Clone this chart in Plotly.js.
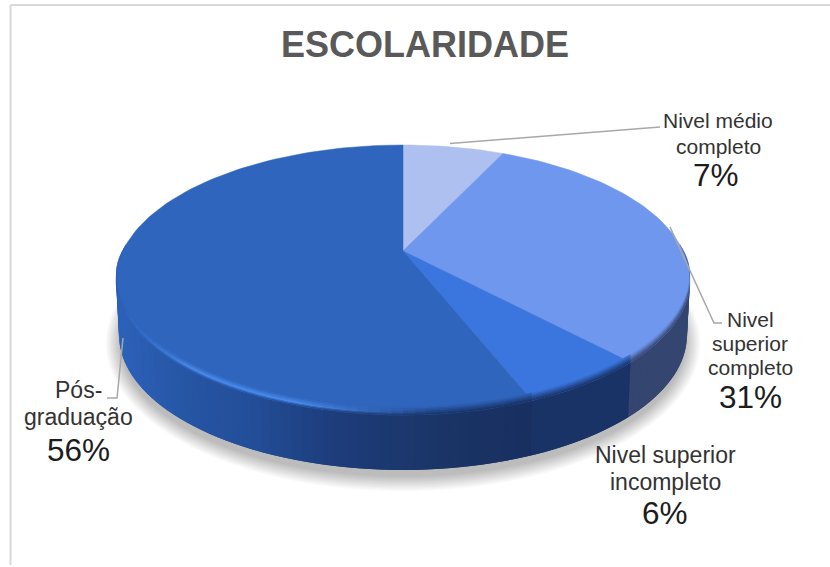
<!DOCTYPE html>
<html>
<head>
<meta charset="utf-8">
<script src="https://cdn.plot.ly/plotly-3.0.1.min.js"></script>
<style>html,body{margin:0;padding:0;background:#fff}#chart{width:830px;height:567px}</style>
</head>
<body>
<div id="chart"></div>
<script>
// Survey shares, clockwise from twelve o'clock
const categories = ['Nivel médio completo', 'Nivel superior completo', 'Nivel superior incompleto', 'Pós-graduação'];
const shares = [7, 31, 6, 56];
const topColors = ['#adc0f0', '#7097ee', '#3a76dd', '#2f65bc'];

// Label text, line by line
const labelLines = [['Nivel médio', 'completo'], ['Nivel', 'superior', 'completo'], ['Nivel superior', 'incompleto'], ['Pós-', 'graduação']];
const labelFontSizes = [21, 21, 23, 23];
const labelLineGaps = [26, 24, 27, 27];
const labelFirstLineY = [120, 319, 455, 390];
const labelCenterX = [718, 750, 665, 78];
const percentY = [175, 397, 513, 450];
const percentCenterX = [716, 750, 665, 78];

// Leader lines from each slice to its label
const leaders = [
  [[450, 143.5], [660, 127]],
  [[670, 227], [714, 323], [722, 323]],
  [],
  [[123, 338], [117, 398], [107, 398]]
];

// Side wall shading, from the right of the large slice towards its left end
const wallShadeX = [532, 430, 330, 250, 170, 125];
const wallShadeColor = ['#182f60', '#1a3568', '#1d3d7c', '#234e98', '#2757a8', '#2c61b8'];
const otherWalls = ['#34456f', '#34456f', '#1a3367'];
const rimHighlight = '#4a8cee';

// Tilted-disc geometry, in canvas units
const cx = 403, cy = 280, rx = 287, ry = 135;
const apexShift = 0.215;      // how far the pie centre sits above the ellipse centre
const depth = 55, rxLow = 284, ryLow = 135;

const clamp01 = t => Math.max(0, Math.min(1, t));
const rgb = h => [1, 3, 5].map(i => parseInt(h.substr(i, 2), 16));
const toHex = a => '#' + a.map(v => Math.round(v).toString(16).padStart(2, '0')).join('');
const mix = (a, b, t) => {
  t = clamp01(t);
  const A = rgb(a), B = rgb(b);
  return toHex(A.map((v, i) => v + (B[i] - v) * t));
};

// Foreshortened point of the disc rim: th clockwise from the top
function unit(r, th) {
  const s = r * Math.sin(th), y = -r * Math.cos(th), k = apexShift;
  const d = 1 - k * y;
  return [s * Math.sqrt(1 - k * k) / d, (y - k) / d];
}
const topPt = (r, th) => { const u = unit(r, th); return [cx + u[0] * rx, cy + u[1] * ry]; };
const lowPt = th => { const u = unit(1, th); return [cx + u[0] * rxLow, cy + depth + u[1] * ryLow]; };

const traces = [];
function poly(pts, color, stroke) {
  traces.push({
    type: 'scatter', mode: stroke ? 'lines' : 'none', fill: 'toself', fillcolor: color,
    x: pts.map(p => p[0]), y: pts.map(p => p[1]),
    line: {color: color, width: stroke || 0},
    hoverinfo: 'skip', showlegend: false
  });
}

// Slice boundaries in radians
const total = shares.reduce((a, b) => a + b, 0);
const bounds = [0];
shares.forEach(v => bounds.push(bounds[bounds.length - 1] + v / total * 2 * Math.PI));
const sliceAt = th => { for (let i = 0; i < shares.length; i++) if (th < bounds[i + 1]) return i; return shares.length - 1; };

// Soft ground shadow
for (let i = 22; i >= 0; i--) {
  const pts = [];
  for (let a = 0; a <= 120; a++) {
    const t = a / 120 * 2 * Math.PI;
    pts.push([cx + (rxLow - 2 + i * 0.7) * Math.sin(t), cy + depth + 8 + (ryLow - 2 + i * 0.7) * Math.cos(t)]);
  }
  poly(pts, 'rgba(70,70,70,0.016)');
}

// Side wall colour at an angle
function wallColor(th) {
  const s = sliceAt(th);
  if (s < 3) return otherWalls[s];
  const x = topPt(1, th)[0];
  for (let i = 0; i + 1 < wallShadeX.length; i++) {
    if (x >= wallShadeX[i + 1]) return mix(wallShadeColor[i], wallShadeColor[i + 1], (wallShadeX[i] - x) / (wallShadeX[i] - wallShadeX[i + 1]));
  }
  return wallShadeColor[wallShadeColor.length - 1];
}
// Rim highlight strength: only along the lower left of the large slice
function glow(th) {
  if (sliceAt(th) < 3) return 0;
  const x = topPt(1, th)[0];
  return clamp01((x - 120) / 70) * clamp01((430 - x) / 130);
}

// Narrow angular strips across the visible front half; each one runs under the next
const wallStart = Math.PI / 2 - 0.05, wallEnd = 1.5 * Math.PI + 0.05;
const strips = 100;
let cuts = [];
for (let i = 0; i <= strips; i++) cuts.push(wallStart + (wallEnd - wallStart) * i / strips);
bounds.forEach(b => { if (b > wallStart && b < wallEnd) cuts.push(b); });
cuts.sort((a, b) => a - b);

for (let i = 0; i + 1 < cuts.length; i++) {
  const a = cuts[i], b = cuts[Math.min(i + 2, cuts.length - 1)], mid = (cuts[i] + cuts[i + 1]) / 2;
  poly([topPt(1, a), topPt(1, b), lowPt(b), lowPt(a)], wallColor(mid));
}

// Top face sectors
shares.forEach((v, i) => {
  const pts = [topPt(0, 0)];
  const n = Math.max(8, Math.round(v * 2));
  for (let k = 0; k <= n; k++) pts.push(topPt(1, bounds[i] + (bounds[i + 1] - bounds[i]) * k / n));
  pts.push(topPt(0, 0));
  poly(pts, topColors[i], 0.5);
});

// Soft bevel along the front rim, measured in px above the rim
const bevelSteps = [8, 6.5, 5, 3.5, 2, 1, 0];
const taper = th => clamp01(Math.min(th - wallStart, wallEnd - th) / 0.35);
const rimUp = (th, d) => { const p = topPt(1, th); return [p[0], p[1] - d * taper(th)]; };
for (let i = 0; i + 1 < cuts.length; i++) {
  const a = cuts[i], b = cuts[Math.min(i + 2, cuts.length - 1)], mid = (cuts[i] + cuts[i + 1]) / 2;
  const tc = topColors[sliceAt(mid)], wc = wallColor(mid), g = glow(mid);
  for (let j = 0; j + 1 < bevelSteps.length; j++) {
    const d0 = bevelSteps[j], d1 = bevelSteps[j + 1], d = (d0 + d1) / 2;
    const plain = mix(tc, wc, (8 - d) / 8);
    const lit = d >= 2.5 ? mix(tc, rimHighlight, (8 - d) / 5.5) : mix(rimHighlight, wc, (2.5 - d) / 2.5);
    poly([rimUp(a, d0), rimUp(b, d0), rimUp(b, d1), rimUp(a, d1)], mix(plain, lit, g));
  }
}

// Text annotations: category names and percentages
const annotations = [];
categories.forEach((name, i) => {
  labelLines[i].forEach((line, j) => {
    annotations.push({
      xref: 'x', yref: 'y', x: labelCenterX[i], y: labelFirstLineY[i] + j * labelLineGaps[i],
      text: line, showarrow: false, xanchor: 'center', yanchor: 'middle',
      font: {family: 'Liberation Sans, Arial, sans-serif', size: labelFontSizes[i], color: '#333333'}
    });
  });
  annotations.push({
    xref: 'x', yref: 'y', x: percentCenterX[i], y: percentY[i],
    text: shares[i] + '%', showarrow: false, xanchor: 'center', yanchor: 'middle',
    font: {family: 'Liberation Sans, Arial, sans-serif', size: 31.5, color: '#1c1c1c'}
  });
});

// Leader lines and the frame around the chart
leaders.forEach(path => {
  if (path.length) traces.push({type: 'scatter', mode: 'lines', x: path.map(p => p[0]), y: path.map(p => p[1]),
    line: {color: '#a8a8a8', width: 1.5}, hoverinfo: 'skip', showlegend: false});
});
const frame = [
  {type: 'line', xref: 'x', yref: 'y', x0: 10.5, y0: 5, x1: 830, y1: 5, line: {color: '#d9d9d9', width: 2}},
  {type: 'line', xref: 'x', yref: 'y', x0: 10.5, y0: 5, x1: 10.5, y1: 565, line: {color: '#d9d9d9', width: 2}}
];

Plotly.newPlot('chart', traces, {
  width: 830, height: 567,
  margin: {l: 0, r: 0, t: 0, b: 0, pad: 0},
  paper_bgcolor: '#ffffff', plot_bgcolor: '#ffffff',
  showlegend: false, hovermode: false,
  title: {text: '<b>ESCOLARIDADE</b>', x: 425 / 830, xanchor: 'center', y: 1 - 44 / 567, yanchor: 'middle',
    font: {family: 'Liberation Sans, Arial, sans-serif', size: 36, color: '#595959'}},
  xaxis: {range: [0, 830], visible: false, fixedrange: true},
  yaxis: {range: [567, 0], visible: false, fixedrange: true},
  annotations: annotations,
  shapes: frame
}, {displayModeBar: false, staticPlot: true});
</script>
</body>
</html>
